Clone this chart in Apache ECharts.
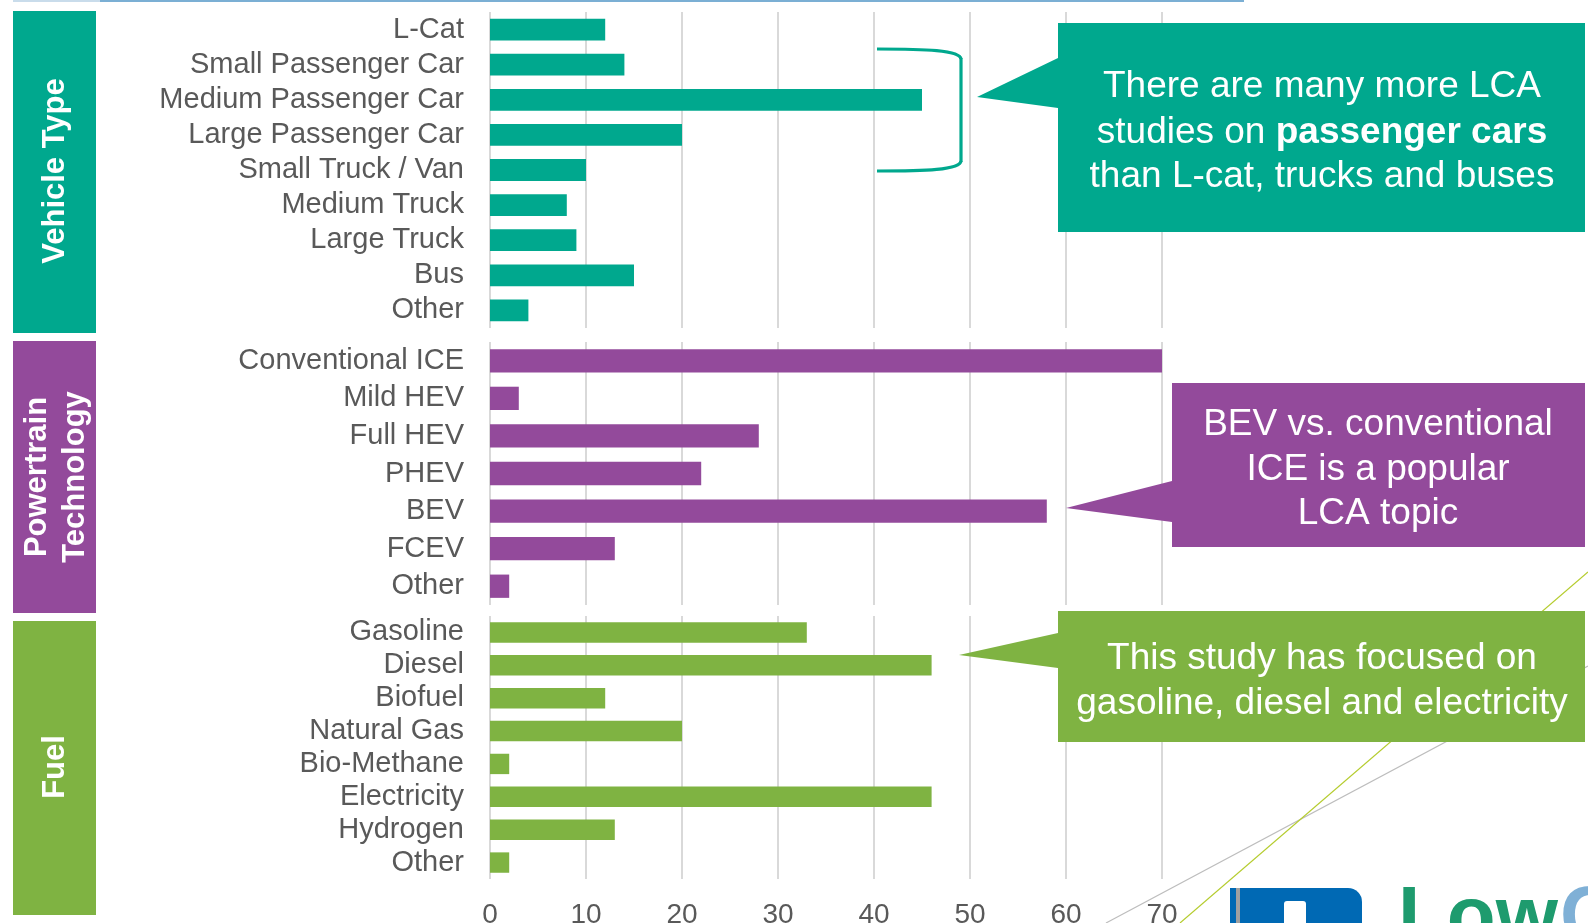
<!DOCTYPE html>
<html><head><meta charset="utf-8">
<script src="https://cdn.jsdelivr.net/npm/echarts@6/dist/echarts.min.js"></script>
<style>html,body{margin:0;padding:0;background:#fff}#c{width:1588px;height:923px}</style>
</head><body><div id="c"></div>
<script>
// ---- data ----
const vehicleCats = ['L-Cat','Small Passenger Car','Medium Passenger Car','Large Passenger Car','Small Truck / Van','Medium Truck','Large Truck','Bus','Other'];
const vehicleVals = [12,14,45,20,10,8,9,15,4];
const powertrainCats = ['Conventional ICE','Mild HEV','Full HEV','PHEV','BEV','FCEV','Other'];
const powertrainVals = [70,3,28,22,58,13,2];
const fuelCats = ['Gasoline','Diesel','Biofuel','Natural Gas','Bio-Methane','Electricity','Hydrogen','Other'];
const fuelVals = [33,46,12,20,2,46,13,2];
const xMin = 0, xMax = 70, xStep = 10;
const groupTitles = ['Vehicle Type','Powertrain\nTechnology','Fuel'];

// ---- styles ----
const TEAL = '#00A88E', PURPLE = '#934A9B', GREEN = '#7FB342';
const FONT = '"Liberation Sans", Arial, sans-serif';
const LABEL = '#595959', GRIDC = '#D9D9D9';

const grids = [
  {left: 490, width: 672, top: 12, height: 316, outerBoundsMode: 'none', containLabel: false},
  {left: 490, width: 672, top: 342, height: 263, outerBoundsMode: 'none', containLabel: false},
  {left: 490, width: 672, top: 616, height: 263, outerBoundsMode: 'none', containLabel: false}
];
function xAx(i, showLabel) {
  return {
    type: 'value', gridIndex: i, min: xMin, max: xMax, interval: xStep,
    axisLine: {show: false}, axisTick: {show: false},
    splitLine: {show: true, lineStyle: {color: GRIDC, width: 2}},
    axisLabel: {show: showLabel, fontSize: 28, color: LABEL, fontFamily: FONT, margin: 22}
  };
}
function yAx(i, cats) {
  return {
    type: 'category', gridIndex: i, data: cats, inverse: true,
    axisLine: {show: false}, axisTick: {show: false},
    axisLabel: {interval: 0, fontSize: 29, color: LABEL, fontFamily: FONT, margin: 26, padding: [4, 0, 0, 0]}
  };
}
function bar(i, vals, color) {
  return {type: 'bar', xAxisIndex: i, yAxisIndex: i, data: vals, barCategoryGap: '38%',
    itemStyle: {color: color}, silent: true};
}
function txt(x, y, text, size, color, extra) {
  return {
    type: 'text', x: x, y: y, z: 120,
    style: Object.assign({
      text: text, fontSize: size, fontFamily: FONT, fill: color,
      textAlign: 'center', align: 'center', textVerticalAlign: 'middle', verticalAlign: 'middle'
    }, extra || {})
  };
}
function poly(points, color, z) {
  return {type: 'polygon', z: z || 100, shape: {points: points}, style: {fill: color}};
}
const bracketStyle = {fill: 'none', stroke: TEAL, lineWidth: 3.2};

const graphic = [
  // top rule
  {type: 'line', shape: {x1: 13, y1: 1, x2: 100, y2: 1}, style: {stroke: '#C9DCEB', lineWidth: 2}},
  {type: 'line', shape: {x1: 100, y1: 1, x2: 1244, y2: 1}, style: {stroke: '#7BAFD4', lineWidth: 2}},
  // side bands
  {type: 'rect', shape: {x: 13, y: 11, width: 83, height: 322}, style: {fill: TEAL}},
  {type: 'rect', shape: {x: 13, y: 341, width: 83, height: 272}, style: {fill: PURPLE}},
  {type: 'rect', shape: {x: 13, y: 621, width: 83, height: 294}, style: {fill: GREEN}},
  Object.assign(txt(0, 0, groupTitles[0], 31, '#fff', {fontWeight: 'bold'}), {x: 55, y: 171, rotation: Math.PI / 2}),
  Object.assign(txt(0, 0, groupTitles[1], 31, '#fff', {fontWeight: 'bold', lineHeight: 38}), {x: 56, y: 477, rotation: Math.PI / 2}),
  Object.assign(txt(0, 0, groupTitles[2], 31, '#fff', {fontWeight: 'bold'}), {x: 55, y: 767, rotation: Math.PI / 2}),
  // decorative diagonal lines
  {type: 'line', z: 50, shape: {x1: 1106, y1: 923, x2: 1588, y2: 666}, style: {stroke: '#BDBDBD', lineWidth: 1.2}},
  {type: 'line', z: 50, shape: {x1: 1180, y1: 923, x2: 1588, y2: 572}, style: {stroke: '#B5CC2E', lineWidth: 1.2}},
  // bracket
  {type: 'bezierCurve', z: 100, shape: {x1: 877, y1: 49, cpx1: 925, cpy1: 49, cpx2: 960, cpy2: 50, x2: 961, y2: 59}, style: bracketStyle},
  {type: 'line', z: 100, shape: {x1: 961, y1: 58, x2: 961, y2: 162}, style: bracketStyle},
  {type: 'bezierCurve', z: 100, shape: {x1: 961, y1: 161, cpx1: 960, cpy1: 170, cpx2: 925, cpy2: 171, x2: 877, y2: 171}, style: bracketStyle},
  // callouts
  poly([[1058,23],[1585,23],[1585,232],[1058,232],[1058,108],[977,97],[1058,58]], TEAL),
  txt(1322, 87, 'There are many more LCA', 37, '#fff'),
  txt(1322, 133, 'studies on {b|passenger cars}', 37, '#fff', {rich: {b: {fontWeight: 'bold', fontSize: 37, fontFamily: FONT, fill: '#fff', color: '#fff'}}}),
  txt(1322, 177, 'than L-cat, trucks and buses', 37, '#fff'),
  poly([[1172,383],[1585,383],[1585,547],[1172,547],[1172,522],[1066,508],[1172,481]], PURPLE),
  txt(1378, 425, 'BEV vs. conventional', 37, '#fff'),
  txt(1378, 470, 'ICE is a popular', 37, '#fff'),
  txt(1378, 514, 'LCA topic', 37, '#fff'),
  poly([[1058,611],[1585,611],[1585,742],[1058,742],[1058,668],[959,655],[1058,633]], GREEN),
  txt(1322, 659, 'This study has focused on', 37, '#fff'),
  txt(1322, 704, 'gasoline, diesel and electricity', 37, '#fff'),
  // logo fragment
  {type: 'rect', z: 110, shape: {x: 1230, y: 888, width: 132, height: 40, r: [0, 14, 0, 0]}, style: {fill: '#0069B4'}},
  {type: 'rect', z: 111, shape: {x: 1236, y: 888, width: 4, height: 40}, style: {fill: '#A0A0A0'}},
  {type: 'rect', z: 111, shape: {x: 1284, y: 901, width: 22, height: 30, r: 3}, style: {fill: '#fff'}},
  {type: 'text', z: 110, x: 1398, y: 960, style: {text: 'Low', fontSize: 80, fontWeight: 'bold', fontFamily: FONT, fill: '#1E9B6E', textAlign: 'left', align: 'left', textVerticalAlign: 'bottom', verticalAlign: 'bottom'}},
  {type: 'text', z: 110, x: 1560, y: 960, style: {text: 'C', fontSize: 80, fontWeight: 'bold', fontFamily: FONT, fill: '#7FB0D6', textAlign: 'left', align: 'left', textVerticalAlign: 'bottom', verticalAlign: 'bottom'}}
];

const chart = echarts.init(document.getElementById('c'), null, {renderer: 'canvas'});
chart.setOption({
  animation: false,
  backgroundColor: '#fff',
  grid: grids,
  xAxis: [xAx(0, false), xAx(1, false), xAx(2, true)],
  yAxis: [yAx(0, vehicleCats), yAx(1, powertrainCats), yAx(2, fuelCats)],
  series: [bar(0, vehicleVals, TEAL), bar(1, powertrainVals, PURPLE), bar(2, fuelVals, GREEN)],
  graphic: graphic
});
</script></body></html>
